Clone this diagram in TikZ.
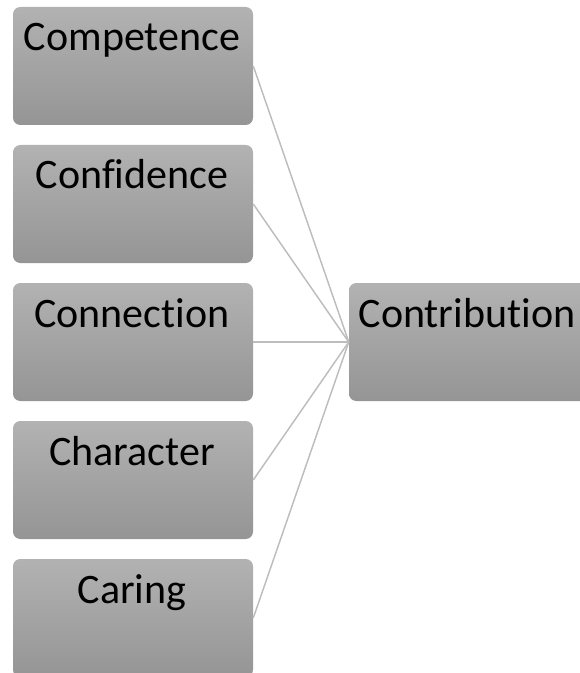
\documentclass[tikz,border=0pt]{standalone}
\usepackage{fontspec}
\setmainfont[Ligatures={NoCommon}]{Carlito}
\begin{document}
\begin{tikzpicture}[x=0.75pt,y=-0.75pt,
  box/.style={rectangle, rounded corners=5.5pt, minimum width=180pt, minimum height=88.5pt,
     top color=boxtop, bottom color=boxbot, draw=none, inner sep=0pt},
  lbl/.style={anchor=base, font=\fontsize{31.5}{36}\selectfont, text=black, inner sep=0pt},
  link/.style={draw=linkgray, line width=1.1pt}]
\definecolor{boxtop}{HTML}{B2B2B2}
\definecolor{boxbot}{HTML}{959595}
\definecolor{linkgray}{HTML}{BDBDBD}
\useasboundingbox (0,0) rectangle (580,673);
\clip (0,0) rectangle (580,673);
\node[box] (b1) at (133,66) {};
\node[box] (b2) at (133,204) {};
\node[box] (b3) at (133,342) {};
\node[box] (b4) at (133,480) {};
\node[box] (b5) at (133,618) {};
\node[box] (b6) at (469,342) {};
\node[lbl] (t1) at (132,51) {Competence};
\node[lbl] (t2) at (132,189) {Confidence};
\node[lbl] (t3) at (132,327) {Connection};
\node[lbl] (t4) at (132,465) {Character};
\node[lbl] (t5) at (132,603) {Caring};
\node[lbl] (t6) at (467,327) {Contribution};
\foreach \i in {1,...,5}{
  \draw[link] (b\i.east) -- (b6.west);
}
\end{tikzpicture}
\end{document}
